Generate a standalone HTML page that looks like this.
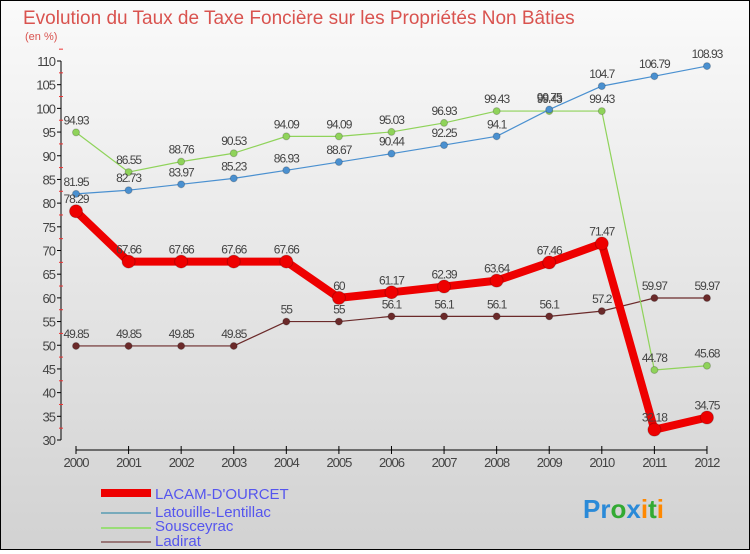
<!DOCTYPE html>
<html><head><meta charset="utf-8"><style>
body{margin:0;width:750px;height:550px;overflow:hidden;font-family:"Liberation Sans",sans-serif}
#wrap{position:relative;width:748px;height:548px;border:1px solid #000;background:linear-gradient(#fafafa,#d2d2d2)}
</style></head><body>
<div id="wrap">
<svg id="c" width="748" height="548" xmlns="http://www.w3.org/2000/svg">
<text x="22" y="23" font-size="19" fill="#d9534f">Evolution du Taux de Taxe Foncière sur les Propriétés Non Bâties</text>
<text x="24" y="39" font-size="11" fill="#d9534f">(en %)</text>
<g id="axes"></g><g id="series"></g>
<g>
<rect x="100" y="488" width="50" height="8" fill="#e00"/>
<text x="154" y="498" font-size="15" fill="#55e">LACAM-D'OURCET</text>
<line x1="100" y1="512" x2="150" y2="512" stroke="#7ab" stroke-width="2"/>
<text x="154" y="516" font-size="15" fill="#55e">Latouille-Lentillac</text>
<line x1="100" y1="527" x2="150" y2="527" stroke="#9d7" stroke-width="2"/>
<text x="154" y="530" font-size="15" fill="#55e">Sousceyrac</text>
<line x1="100" y1="541" x2="150" y2="541" stroke="#977" stroke-width="2"/>
<text x="154" y="545" font-size="15" fill="#55e">Ladirat</text>
</g>
<text x="582" y="517" font-size="26" font-weight="bold"><tspan fill="#2a8ad8">Pr</tspan><tspan fill="#3a3">o</tspan><tspan fill="#2a8ad8">x</tspan><tspan fill="#f80">i</tspan><tspan fill="#3a3">t</tspan><tspan fill="#f80">i</tspan></text>
</svg></div>
<script>
const years=[2000,2001,2002,2003,2004,2005,2006,2007,2008,2009,2010,2011,2012];
const lacam=[78.29,67.66,67.66,67.66,67.66,60,61.17,62.39,63.64,67.46,71.47,32.18,34.75];
const latouille=[81.95,82.73,83.97,85.23,86.93,88.67,90.44,92.25,94.1,99.75,104.7,106.79,108.93];
const sousceyrac=[94.93,86.55,88.76,90.53,94.09,94.09,95.03,96.93,99.43,99.43,99.43,44.78,45.68];
const ladirat=[49.85,49.85,49.85,49.85,55,55,56.1,56.1,56.1,56.1,57.2,59.97,59.97];
const yTicks=[30,35,40,45,50,55,60,65,70,75,80,85,90,95,100,105,110];
const NS="http://www.w3.org/2000/svg";
const x=i=>75+i*52.58, y=v=>439-(v-30)*4.7375;
function mk(t,a,p){const e=document.createElementNS(NS,t);for(const k in a)e.setAttribute(k,a[k]);p.appendChild(e);return e;}
const ax=document.getElementById('axes'), sg=document.getElementById('series');
let l=mk('line',{x1:60,y1:y(110),x2:60,y2:y(30),stroke:'#000'},ax);


yTicks.forEach(v=>{
  mk('line',{x1:56,y1:y(v),x2:60,y2:y(v),stroke:'#000'},ax);
  mk('line',{x1:58,y1:y(v+2.5),x2:62,y2:y(v+2.5),stroke:'#e33'},ax);
  const t=mk('text',{x:54,y:y(v)+5,'font-size':13,fill:'#444','text-anchor':'end','letter-spacing':'-1'},ax);
  t.textContent=v;
  
  
});
l=mk('line',{x1:x(0),y1:449,x2:x(12),y2:449,stroke:'#000'},ax);


years.forEach((yr,i)=>{
  mk('line',{x1:x(i),y1:445,x2:x(i),y2:453,stroke:'#000'},ax);
  const t=mk('text',{x:x(i),y:466,'font-size':13,fill:'#444','text-anchor':'middle','letter-spacing':'-1'},ax);
  t.textContent=yr;
  
  
});
function series(data,color,w,r,name){
  const g=mk('g',{},sg);
  
  
  const p=mk('polyline',{points:data.map((v,i)=>x(i)+','+y(v)).join(' '),fill:'none',stroke:color,'stroke-width':w,'stroke-linejoin':'round'},g);
  
  
  data.forEach((v,i)=>{
    const c=mk('circle',{cx:x(i),cy:y(v),r:r,fill:color,stroke:'#0003'},g);
    
    
    const t=mk('text',{x:x(i),y:y(v)-8,'font-size':12,fill:'#444','text-anchor':'middle','letter-spacing':'-1'},g);
    t.textContent=v;
    
    
  });
}
series(ladirat,'#6b2a2a',1.2,3.5,'ladirat');
series(sousceyrac,'#8fd35a',1.2,3.5,'sousceyrac');
series(latouille,'#4a90d0',1.2,3.5,'latouille');
series(lacam,'#ee0000',8,6.5,'lacam');
</script>
</body></html>
